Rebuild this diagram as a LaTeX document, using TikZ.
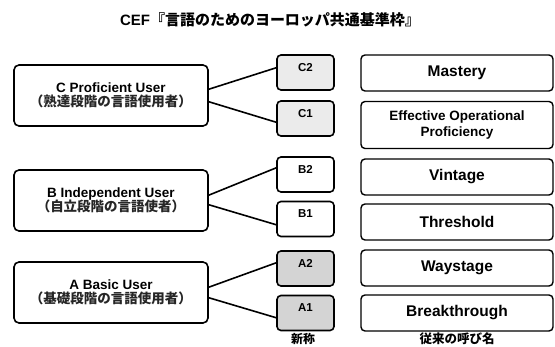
\documentclass[tikz,border=0pt]{standalone}
\usepackage{fontspec}
\setmainfont{Liberation Sans}
\newfontfamily\jp{Noto Sans CJK JP}
\begin{document}
\begin{tikzpicture}[x=1pt,y=-1pt,
  every node/.style={inner sep=0pt,outer sep=0pt},
  userbox/.style={draw,line width=1.6pt,rounded corners=5pt,minimum width=194pt,minimum height=61pt,align=center,font=\bfseries\fontsize{13.5}{15.5}\selectfont},
  lvlbox/.style={draw,line width=1.6pt,rounded corners=4pt,minimum width=57pt,minimum height=35pt,text height=8.5pt,text depth=11pt,font=\bfseries\fontsize{11.5}{12}\selectfont},
  namebox/.style={draw,line width=1.4pt,rounded corners=4pt,minimum width=192pt,minimum height=36pt,align=center,font=\bfseries\fontsize{15.5}{17}\selectfont},
  conn/.style={line width=1.6pt},
  lightc/.style={fill=black!8},
  darka/.style={fill=black!17}]
\useasboundingbox (0,0) rectangle (555,347);
\node[font=\bfseries\fontsize{15}{17}\selectfont] (title) at (270,20) {CEF{\jp\bfseries 『言語のためのヨーロッパ共通基準枠』}};
% user boxes
\node[userbox] (C) at (111,95.5) {C Proficient User\\[-1pt]{\jp\bfseries\color{black!85} （熟達段階の言語使用者）}};
\node[userbox] (B) at (111,200.5) {B Independent User\\[-1pt]{\jp\bfseries\color{black!85} （自立段階の言語使者）}};
\node[userbox] (A) at (111,292.5) {A Basic User\\[-1pt]{\jp\bfseries\color{black!85} （基礎段階の言語使用者）}};
% level boxes
\node[lvlbox,lightc] (C2) at (305.5,72.5) {C2};
\node[lvlbox,lightc] (C1) at (305.5,118.5) {C1};
\node[lvlbox] (B2) at (305.5,174.5) {B2};
\node[lvlbox] (B1) at (305.5,219) {B1};
\node[lvlbox,darka] (A2) at (305.5,268.5) {A2};
\node[lvlbox,darka] (A1) at (305.5,313) {A1};
% name boxes
\node[namebox] (mas) at (457,73) {Mastery};
\node[namebox,minimum height=47pt,font=\bfseries\fontsize{13.5}{16}\selectfont] (eop) at (457,125) {Effective Operational\\Proficiency};
\node[namebox] (vin) at (457,177) {Vintage};
\node[namebox] (thr) at (457,222) {Threshold};
\node[namebox] (way) at (457,268) {Waystage};
\node[namebox] (brk) at (457,313) {Breakthrough};
% connectors
\draw[conn] ([yshift=6pt]C.east) -- ([yshift=5pt]C2.west);
\draw[conn] ([yshift=-6pt]C.east) -- ([yshift=-4pt]C1.west);
\draw[conn] ([yshift=5pt]B.east) -- ([yshift=7pt]B2.west);
\draw[conn] ([yshift=-4pt]B.east) -- ([yshift=-6pt]B1.west);
\draw[conn] ([yshift=5pt]A.east) -- ([yshift=6pt]A2.west);
\draw[conn] ([yshift=-5pt]A.east) -- ([yshift=-5pt]A1.west);
% bottom labels
\node[anchor=north,font=\jp\bfseries\fontsize{12}{13}\selectfont] (shin) at (303,333) {新称};
\node[anchor=north,font=\jp\bfseries\fontsize{12.5}{13}\selectfont] (jurai) at (457,333) {従来の呼び名};
\end{tikzpicture}
\end{document}
